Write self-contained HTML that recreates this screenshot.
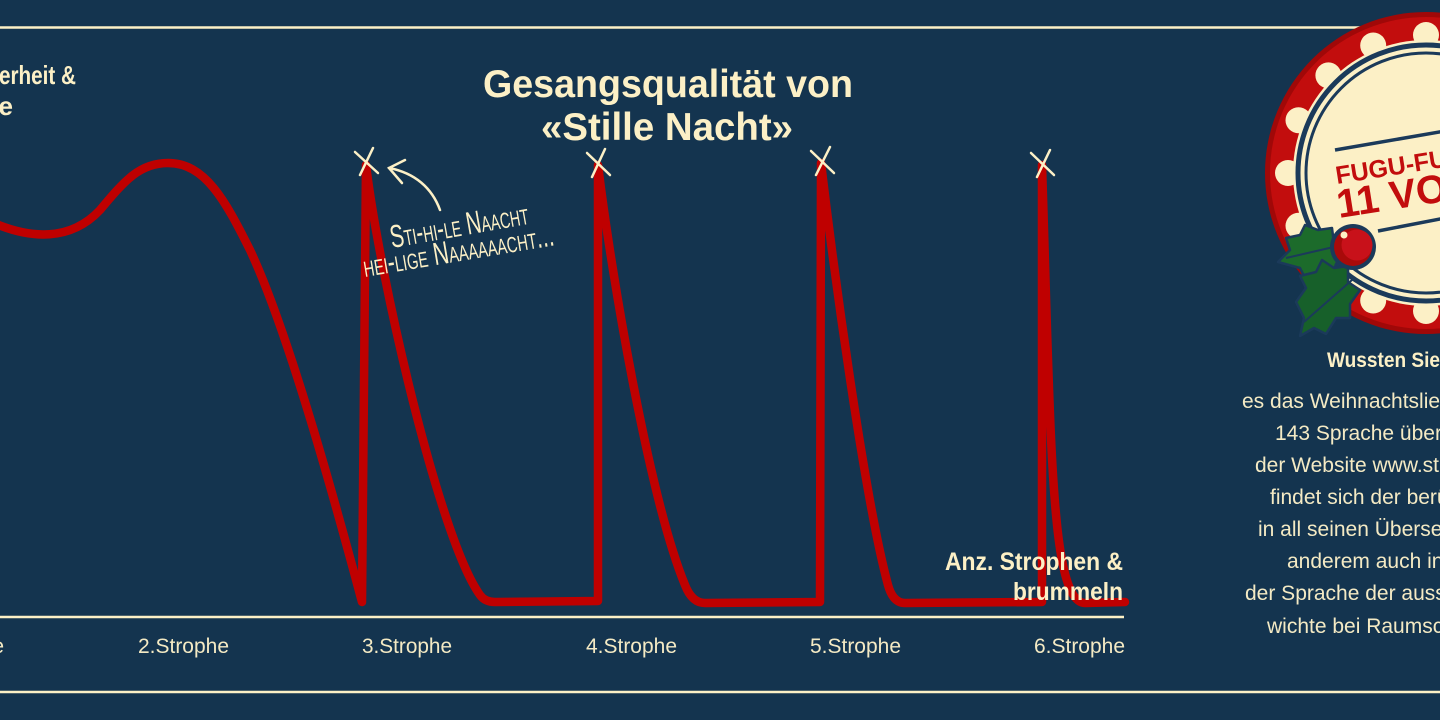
<!DOCTYPE html>
<html>
<head>
<meta charset="utf-8">
<style>
html,body{margin:0;padding:0;background:#14344f;}
svg{display:block;}
.b{font-family:"Liberation Sans Narrow","Liberation Sans",sans-serif;font-weight:bold;fill:#fcf0c6;}
.l{font-family:"Liberation Sans",sans-serif;font-weight:300;fill:#f4eac4;}
.h{font-family:"Liberation Sans Narrow","Liberation Sans",sans-serif;fill:#fcf0c6;font-variant:small-caps;}
</style>
</head>
<body>
<svg width="1440" height="720" viewBox="0 0 1440 720" xmlns="http://www.w3.org/2000/svg">
<rect width="1440" height="720" fill="#14344f"/>
<!-- frame lines -->
<line x1="0" y1="27.5" x2="1440" y2="27.5" stroke="#fcf0c6" stroke-width="2.5"/>
<line x1="0" y1="692" x2="1440" y2="692" stroke="#fcf0c6" stroke-width="2.5"/>
<line x1="0" y1="617" x2="1124" y2="617" stroke="#fcf0c6" stroke-width="2.5"/>

<!-- curve -->
<path d="M -4,224 C 30,238 70,242 100,210 C 125,180 140,163 168,163 C 205,163 225,200 250,250 C 290,335 340,520 362,602 L 366,165 C 380,280 440,540 480,595 Q 485,602 495,602 L 598,601 L 598,165 C 612,280 650,500 685,585 Q 692,603 705,603 L 820,602 L 821,163 C 835,280 865,500 888,585 Q 893,603 905,603 L 1042,602 L 1042,165 C 1048,350 1050,500 1062,560 Q 1070,603 1085,603 L 1125,602"
 fill="none" stroke="#bf0000" stroke-width="8.5" stroke-linejoin="round" stroke-linecap="round"/>

<!-- title -->
<text class="b" x="483" y="97" font-size="39" textLength="370" lengthAdjust="spacingAndGlyphs">Gesangsqualität von</text>
<text class="b" x="541" y="140" font-size="39" textLength="252" lengthAdjust="spacingAndGlyphs">«Stille Nacht»</text>

<!-- y label -->
<text class="b" x="-1" y="84" font-size="26" textLength="77" lengthAdjust="spacingAndGlyphs">erheit &amp;</text>
<text class="b" x="13" y="115" font-size="26" text-anchor="end">e</text>

<!-- x axis label -->
<text class="b" x="945" y="570" font-size="25" textLength="178" lengthAdjust="spacingAndGlyphs">Anz. Strophen &amp;</text>
<text class="b" x="1013" y="600" font-size="25" textLength="110" lengthAdjust="spacingAndGlyphs">brummeln</text>

<!-- tick labels -->
<g class="l" font-size="21">
<text x="-87" y="653" textLength="91" lengthAdjust="spacingAndGlyphs">1.Strophe</text>
<text x="138" y="653" textLength="91" lengthAdjust="spacingAndGlyphs">2.Strophe</text>
<text x="362" y="653" textLength="90" lengthAdjust="spacingAndGlyphs">3.Strophe</text>
<text x="586" y="653" textLength="91" lengthAdjust="spacingAndGlyphs">4.Strophe</text>
<text x="810" y="653" textLength="91" lengthAdjust="spacingAndGlyphs">5.Strophe</text>
<text x="1034" y="653" textLength="91" lengthAdjust="spacingAndGlyphs">6.Strophe</text>
</g>

<!-- X marks -->
<g stroke="#fcf0c6" stroke-width="2.5" stroke-linecap="round" fill="none">
<path d="M355,152 L378,173 M373,148 L360,175"/>
<path d="M587,153 L610,175 M605,149 L592,177"/>
<path d="M811,151 L834,173 M830,147 L816,175"/>
<path d="M1031,153 L1054,175 M1050,150 L1037,177"/>
<!-- arrow -->
<path d="M440,210 C 432,188 415,173 389,168"/>
<path d="M405,160 L389,168 L402,183"/>
</g>

<!-- annotation -->
<text class="h" font-size="32" transform="translate(392,248) rotate(-10)" textLength="140" lengthAdjust="spacingAndGlyphs">Sti-hi-le Naacht</text>
<text class="h" font-size="32" transform="translate(365,277) rotate(-9.5)" textLength="193" lengthAdjust="spacingAndGlyphs">hei-lige Naaaaaacht...</text>

<!-- badge -->
<g>
<circle cx="1426" cy="173" r="161" fill="#a00808"/>
<circle cx="1426" cy="173" r="156" fill="#c20d0d"/>
<g fill="#fcf0c6">
<circle cx="1288" cy="173" r="13"/>
<circle cx="1298.5" cy="120.2" r="13"/>
<circle cx="1328.4" cy="75.4" r="13"/>
<circle cx="1373.2" cy="45.5" r="13"/>
<circle cx="1426" cy="35" r="13"/>
<circle cx="1298.5" cy="225.8" r="13"/>
<circle cx="1328.4" cy="270.6" r="13"/>
<circle cx="1373.2" cy="300.5" r="13"/>
<circle cx="1426" cy="311" r="13"/>
</g>
<circle cx="1426" cy="173" r="133" fill="#fcf0c6"/>
<circle cx="1426" cy="173" r="128" fill="none" stroke="#1b3a5a" stroke-width="5"/>
<circle cx="1426" cy="173" r="120" fill="none" stroke="#1b3a5a" stroke-width="3"/>
<line x1="1335" y1="150" x2="1445" y2="131" stroke="#1b3a5a" stroke-width="3.5"/>
<line x1="1378" y1="231" x2="1445" y2="218" stroke="#1b3a5a" stroke-width="3.5"/>
<text font-family="Liberation Sans Narrow, Liberation Sans, sans-serif" font-weight="bold" fill="#c20d0d" font-size="25" transform="translate(1337,184) rotate(-9)">FUGU-FUNFACT</text>
<text font-family="Liberation Sans Narrow, Liberation Sans, sans-serif" font-weight="bold" fill="#c20d0d" font-size="40" transform="translate(1339,218) rotate(-9)">11 VON 24</text>
<!-- holly -->
<g stroke="#1b3a5a" stroke-width="2.5" stroke-linejoin="round">
<path d="M1278,262 L1290,250 L1286,238 L1300,235 L1305,225 L1318,230 L1332,228 L1334,244 L1346,250 L1336,264 L1332,276 L1318,272 L1306,280 L1300,268 Z" fill="#1c6b2b"/>
<path d="M1296,302 L1306,288 L1300,276 L1316,272 L1322,260 L1334,268 L1348,266 L1348,282 L1360,290 L1350,304 L1350,318 L1336,318 L1326,334 L1314,328 L1300,336 L1304,318 Z" fill="#17602a"/>
<path d="M1286,258 L1338,246 M1304,322 L1352,280" fill="none" stroke-width="2"/>
</g>
<circle cx="1353" cy="247" r="23" fill="#1b3a5a"/>
<circle cx="1353" cy="247" r="19" fill="#a80a0a"/>
<circle cx="1357" cy="245" r="15.5" fill="#c8111a"/>
<circle cx="1344" cy="235" r="3.5" fill="#fcf0c6"/>
</g>

<!-- side text -->
<text class="b" x="1327" y="367" font-size="21" textLength="113" lengthAdjust="spacingAndGlyphs">Wussten Sie</text>
<text class="b" x="1441" y="367" font-size="21">, dass</text>
<g class="l" font-size="21">
<text x="1242" y="408">es das Weihnachtslied in über</text>
<text x="1275" y="440">143 Sprache übersetzt gibt?</text>
<text x="1255" y="472">der Website www.stillenacht.at</text>
<text x="1270" y="504">findet sich der berühmte Song</text>
<text x="1258" y="536">in all seinen Übersetzungen, unter</text>
<text x="1287" y="568">anderem auch in Klingonisch,</text>
<text x="1245" y="600">der Sprache der ausserirdischen</text>
<text x="1267" y="633">wichte bei Raumschiff Enterprise.</text>
</g>
</svg>
</body>
</html>
